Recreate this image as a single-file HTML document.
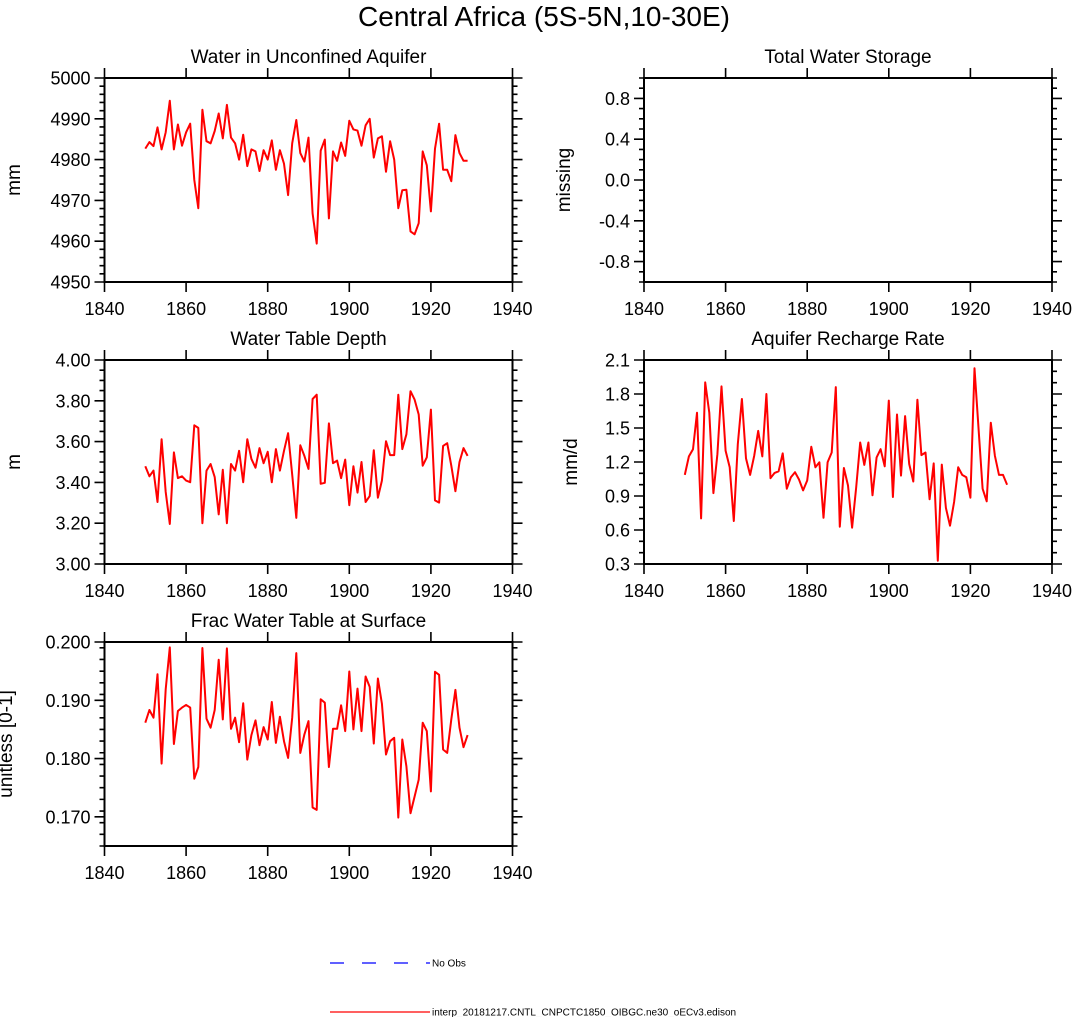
<!DOCTYPE html>
<html><head><meta charset="utf-8"><style>
html,body{margin:0;padding:0;background:#fff;}
svg{display:block;font-family:"Liberation Sans",Arial,sans-serif;}
</style></head><body>
<svg id="chart" width="1075" height="1017" viewBox="0 0 1075 1017" xmlns="http://www.w3.org/2000/svg">
<text x="544" y="26" font-size="28" text-anchor="middle">Central Africa (5S-5N,10-30E)</text>
<g id="panels"></g>
<g>
<line x1="330" y1="963" x2="430" y2="963" stroke="#0000ff" stroke-width="1.3" stroke-dasharray="14,18"/>
<text x="432" y="966.5" font-size="10">No Obs</text>
<line x1="330" y1="1012" x2="430" y2="1012" stroke="#ff0000" stroke-width="1.3"/>
<text x="432" y="1015.5" font-size="10">interp_20181217.CNTL_CNPCTC1850_OIBGC.ne30_oECv3.edison</text>
</g>
</svg>
<script>
const years = Array.from({length:80},(_,i)=>1850+i);
const xTicks = [1840,1860,1880,1900,1920,1940];
const aquiferVals = [4982.7,4984.3,4983.3,4987.9,4982.5,4986.7,4994.4,4982.5,4988.6,4983.4,4986.7,4988.8,4975,4968.1,4992.2,4984.5,4984,4987,4991.3,4985.2,4993.4,4985.4,4984,4980,4986.1,4978.4,4982.5,4982,4977.2,4982.3,4980,4984.7,4977.5,4982.3,4979,4971.3,4984,4989.7,4981.6,4979.5,4985.4,4966.8,4959.4,4982.2,4984.9,4965.6,4982,4979.7,4984.2,4980.9,4989.5,4987.4,4987.1,4983.4,4988.4,4990,4980.5,4985.2,4985.7,4977,4984.5,4980,4968.1,4972.5,4972.6,4962.4,4961.7,4964.4,4982,4978.6,4967.3,4982.7,4988.8,4977.5,4977.5,4974.7,4986,4981.6,4979.7,4979.7];
const aquiferTicks = [4950,4960,4970,4980,4990,5000];
const tsTicks = [-0.8,-0.4,0.0,0.4,0.8];
const tsTickLabels = ["-0.8","-0.4","0.0","0.4","0.8"];
const wtdVals = [3.479,3.43,3.458,3.304,3.612,3.353,3.196,3.547,3.421,3.43,3.409,3.401,3.68,3.667,3.2,3.458,3.49,3.426,3.243,3.462,3.2,3.49,3.458,3.555,3.401,3.612,3.515,3.472,3.568,3.494,3.55,3.401,3.563,3.458,3.555,3.641,3.438,3.226,3.582,3.53,3.466,3.809,3.83,3.393,3.398,3.689,3.494,3.507,3.421,3.512,3.288,3.479,3.35,3.5,3.304,3.333,3.558,3.325,3.409,3.602,3.534,3.534,3.83,3.563,3.636,3.847,3.806,3.733,3.482,3.523,3.757,3.312,3.301,3.579,3.592,3.482,3.357,3.5,3.568,3.53];
const wtdTicks = [3.0,3.2,3.4,3.6,3.8,4.0];
const wtdTickLabels = ["3.00","3.20","3.40","3.60","3.80","4.00"];
const rechargeVals = [1.086,1.249,1.313,1.634,0.702,1.902,1.634,0.926,1.27,1.867,1.299,1.153,0.679,1.357,1.756,1.232,1.086,1.255,1.474,1.249,1.8,1.057,1.104,1.118,1.276,0.964,1.066,1.11,1.046,0.949,1.037,1.334,1.153,1.197,0.708,1.197,1.284,1.861,0.629,1.147,0.993,0.62,0.978,1.372,1.174,1.372,0.906,1.241,1.313,1.162,1.742,0.891,1.619,1.08,1.605,1.182,1.028,1.75,1.261,1.284,0.871,1.188,0.329,1.177,0.795,0.638,0.847,1.153,1.086,1.066,0.885,2.027,1.488,0.964,0.853,1.547,1.255,1.086,1.086,0.999];
const rechargeTicks = [0.3,0.6,0.9,1.2,1.5,1.8,2.1];
const rechargeTickLabels = ["0.3","0.6","0.9","1.2","1.5","1.8","2.1"];
const fracVals = [0.18615,0.18833,0.18701,0.19448,0.17914,0.1919,0.19908,0.1825,0.18816,0.18874,0.1892,0.18874,0.17655,0.17856,0.19897,0.18684,0.18529,0.18833,0.19695,0.18672,0.19891,0.18511,0.18701,0.18281,0.18948,0.17983,0.18402,0.18655,0.18229,0.1854,0.18327,0.18971,0.18269,0.18718,0.18298,0.18011,0.18701,0.1981,0.18097,0.18414,0.18643,0.1716,0.1712,0.19017,0.1896,0.17856,0.18511,0.18511,0.18914,0.18471,0.19494,0.185,0.19201,0.18471,0.19408,0.1923,0.18258,0.19374,0.18943,0.18069,0.18298,0.18356,0.16988,0.18327,0.17868,0.17063,0.1735,0.17638,0.18615,0.18471,0.17437,0.19489,0.19437,0.18155,0.18097,0.18672,0.19178,0.18529,0.18195,0.18402];
const fracTicks = [0.17,0.18,0.19,0.2];
const fracTickLabels = ["0.170","0.180","0.190","0.200"];

const NS='http://www.w3.org/2000/svg';
const root=document.getElementById('panels');
function mk(tag,attrs,parent){const e=document.createElementNS(NS,tag);for(const k in attrs)e.setAttribute(k,attrs[k]);parent.appendChild(e);return e;}

function panel(cfg){
  const L=cfg.x, T=cfg.y, W=408, H=204;
  const g=mk('g',{},root);
  
  
  const xs=v=>L+(v-1840)/100*W;
  const ys=v=>T+H-(v-cfg.ymin)/(cfg.ymax-cfg.ymin)*H;
  const t=mk('text',{x:L+W/2,y:T-15,'font-size':19,'text-anchor':'middle'},g);
  t.textContent=cfg.title;
  
  
  const fr=mk('rect',{x:L,y:T,width:W,height:H,fill:'none',stroke:'#000','stroke-width':2},g);
  
  
  let tk='';
  xTicks.forEach(v=>{const x=xs(v);tk+=`M${x},${T+H}v10M${x},${T}v-10`;
    const lb=mk('text',{x:x,y:T+H+33,'font-size':18,'text-anchor':'middle'},g);lb.textContent=v;
    
    });
  cfg.ticks.forEach((v,i)=>{const y=ys(v);tk+=`M${L},${y}h-10M${L+W},${y}h10`;
    const lb=mk('text',{x:L-14,y:y+6.5,'font-size':18,'text-anchor':'end'},g);lb.textContent=cfg.labels?cfg.labels[i]:v;
    
    });
  for(let v=cfg.ymin;v<=cfg.ymax+1e-9;v+=cfg.minor){const y=ys(v);tk+=`M${L},${y}h-5M${L+W},${y}h5`;}
  const tp=mk('path',{d:tk,stroke:'#000','stroke-width':1.6,fill:'none'},g);
  
  
  const yl=mk('text',{x:0,y:0,'font-size':19,'text-anchor':'middle',transform:`translate(${cfg.ytx},${T+H/2}) rotate(-90)`},g);
  yl.textContent=cfg.ylabel;
  
  
  if(cfg.vals){
    const d=cfg.vals.map((v,i)=>(i?'L':'M')+xs(years[i]).toFixed(1)+','+ys(v).toFixed(1)).join('');
    const p=mk('path',{d:d,stroke:'#ff0000','stroke-width':2,fill:'none','stroke-linejoin':'round'},g);
    
    
  }
}
panel({name:'aquifer',x:104.5,y:78,title:'Water in Unconfined Aquifer',ymin:4950,ymax:5000,ticks:aquiferTicks,minor:2,ylabel:'mm',ytx:20,vals:aquiferVals});
panel({name:'total-water-storage',x:644,y:78,title:'Total Water Storage',ymin:-1,ymax:1,ticks:tsTicks,labels:tsTickLabels,minor:0.1,ylabel:'missing',ytx:570,vals:null});
panel({name:'water-table-depth',x:104.5,y:360,title:'Water Table Depth',ymin:3,ymax:4,ticks:wtdTicks,labels:wtdTickLabels,minor:0.05,ylabel:'m',ytx:20,vals:wtdVals});
panel({name:'recharge',x:644,y:360,title:'Aquifer Recharge Rate',ymin:0.3,ymax:2.1,ticks:rechargeTicks,labels:rechargeTickLabels,minor:0.1,ylabel:'mm/d',ytx:577,vals:rechargeVals});
panel({name:'frac-water-table',x:104.5,y:642,title:'Frac Water Table at Surface',ymin:0.165,ymax:0.2,ticks:fracTicks,labels:fracTickLabels,minor:0.002,ylabel:'unitless [0-1]',ytx:12,vals:fracVals});
</script>
</body></html>
